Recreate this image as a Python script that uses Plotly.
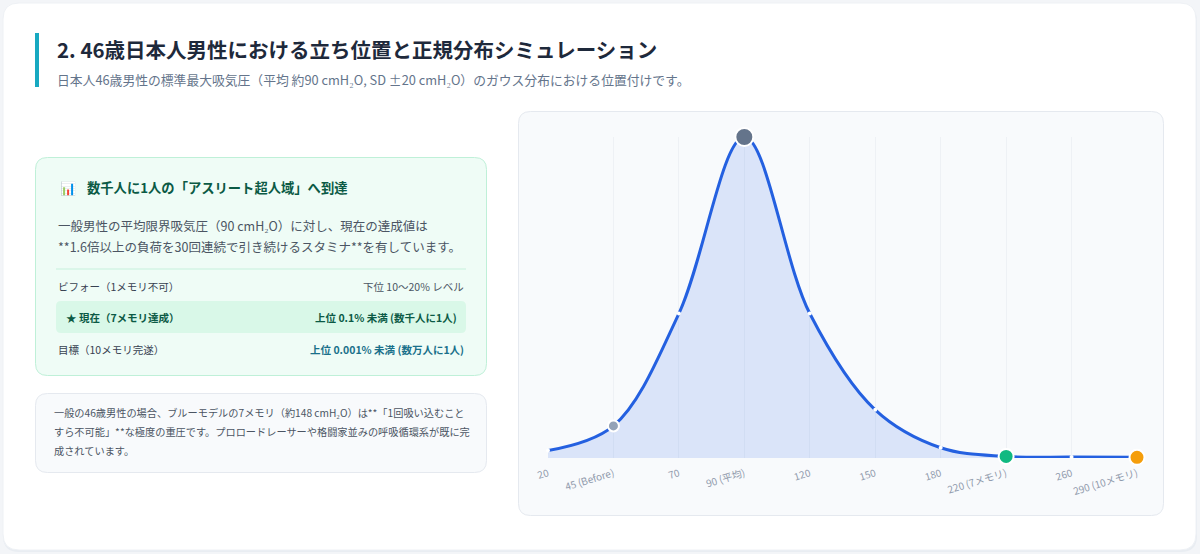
import plotly.graph_objects as go

# ---- data ----
categories = ["20", "45 (Before)", "70", "90 (平均)", "120", "150", "180",
              "220 (7メモリ)", "260", "290 (10メモリ)"]
density = [2.3, 10, 45, 100, 45, 15, 3.2, 0.5, 0.3, 0.2]

marker_colors = ["#ffffff", "#94a3b8", "#ffffff", "#64748b", "#ffffff", "#ffffff",
                 "#ffffff", "#10b981", "#ffffff", "#f59e0b"]
marker_sizes = [4, 11, 4, 18, 4, 4, 4, 15, 4, 15]
marker_borders = [0, 2, 0, 2, 0, 0, 0, 2, 0, 2]

title_text = "2. 46歳日本人男性における立ち位置と正規分布シミュレーション"
subtitle_text = "日本人46歳男性の標準最大吸気圧（平均 約90 cmH₂O, SD ±20 cmH₂O）のガウス分布における位置付けです。"
card_heading = "数千人に1人の「アスリート超人域」へ到達"
card_para = ["一般男性の平均限界吸気圧（90 cmH₂O）に対し、現在の達成値は",
             "**1.6倍以上の負荷を30回連続で引き続けるスタミナ**を有しています。"]
row_labels = ["ビフォー（1メモリ不可）", "★ 現在（7メモリ達成）", "目標（10メモリ完遂）"]
row_values = ["下位 10〜20% レベル", "上位 0.1% 未満 (数千人に1人)", "上位 0.001% 未満 (数万人に1人)"]
note_lines = ["一般の46歳男性の場合、ブルーモデルの7メモリ（約148 cmH₂O）は**「1回吸い込むこと",
              "すら不可能」**な極度の重圧です。プロロードレーサーや格闘家並みの呼吸循環系が既に完",
              "成されています。"]

W, H = 1200, 554
FONT = "Noto Sans CJK JP"


def X(p):
    return p / W


def Y(p):
    return 1 - p / H


def rrect(x0, y0, x1, y1, r, fill, line=None, lw=1):
    rx, ry = r, r
    path = (f"M {X(x0+rx)},{Y(y0)} L {X(x1-rx)},{Y(y0)} Q {X(x1)},{Y(y0)} {X(x1)},{Y(y0+ry)} "
            f"L {X(x1)},{Y(y1-ry)} Q {X(x1)},{Y(y1)} {X(x1-rx)},{Y(y1)} "
            f"L {X(x0+rx)},{Y(y1)} Q {X(x0)},{Y(y1)} {X(x0)},{Y(y1-ry)} "
            f"L {X(x0)},{Y(y0+ry)} Q {X(x0)},{Y(y0)} {X(x0+rx)},{Y(y0)} Z")
    return dict(type="path", path=path, xref="paper", yref="paper", fillcolor=fill,
                line=dict(color=line if line else fill, width=lw if line else 0), layer="below")


shapes = []
# outer card with faint shadow
shapes.append(rrect(3, 5, 1197, 552, 16, "#e9edf2"))
shapes.append(rrect(3, 3, 1196, 550, 16, "#ffffff", "#eef1f5", 1))
# title accent bar
shapes.append(dict(type="rect", xref="paper", yref="paper", x0=X(35), x1=X(39), y0=Y(33), y1=Y(87),
                   fillcolor="#17a9c1", line=dict(width=0), layer="below"))
# green card
shapes.append(rrect(35.5, 157.5, 486.5, 375.5, 12, "#effcf6", "#bff0d8", 1))
shapes.append(dict(type="line", xref="paper", yref="paper", x0=X(56), x1=X(466), y0=Y(269), y1=Y(269),
                   line=dict(color="#c6f1dc", width=1), layer="below"))
shapes.append(rrect(56, 301, 466, 333, 5, "#d9f8e8"))
# note card
shapes.append(rrect(35.5, 393.5, 486.5, 472.5, 12, "#f8fafc", "#e5e9ef", 1))
# chart card
shapes.append(rrect(518.5, 111.5, 1163.5, 515.5, 12, "#f8fafc", "#e5e9ef", 1))

annotations = []


def txt(x, y, s, size, color, anchor="left", weight=400):
    annotations.append(dict(x=X(x), y=Y(y), xref="paper", yref="paper", text=s, showarrow=False,
                            xanchor=anchor, yanchor="middle",
                            font=dict(family=FONT, size=size, color=color, weight=weight)))


txt(55, 49, title_text, 20.5, "#1e293b", weight=600)
txt(55, 79, subtitle_text, 12.8, "#64748b")
txt(58, 188, "📊", 13, "#64748b")
txt(85, 188, card_heading, 13.3, "#0b5a45", weight=700)
txt(56, 225, card_para[0], 12.5, "#4b5563")
txt(56, 246, card_para[1], 12.5, "#4b5563")
txt(56, 286, row_labels[0], 10.5, "#374151")
txt(466, 286, row_values[0], 10.5, "#4b5563", anchor="right")
txt(64, 317, row_labels[1], 10.5, "#0b5a45", weight=700)
txt(459, 317, row_values[1], 10.5, "#0b5a45", anchor="right", weight=700)
txt(56, 349, row_labels[2], 10.5, "#374151")
txt(466, 349, row_values[2], 10.5, "#19708a", anchor="right", weight=600)
for i, line in enumerate(note_lines):
    txt(52, 412 + i * 19, line, 10.2, "#4b5563")

fig = go.Figure()
fig.add_trace(go.Scatter(
    x=categories, y=density, mode="lines",
    line=dict(color="#2460e0", width=3, shape="spline", smoothing=1.0),
    fill="tozeroy", fillcolor="rgba(37,99,235,0.14)",
    cliponaxis=False, hoverinfo="skip", showlegend=False,
))
fig.add_trace(go.Scatter(
    x=categories, y=density, mode="markers",
    marker=dict(color=marker_colors, size=marker_sizes, opacity=1,
                line=dict(color="#ffffff", width=marker_borders)),
    cliponaxis=False, hoverinfo="skip", showlegend=False,
))

fig.update_layout(
    width=W, height=H, margin=dict(l=0, r=0, t=0, b=0),
    paper_bgcolor="#f3f5f8", plot_bgcolor="rgba(0,0,0,0)",
    shapes=shapes, annotations=annotations,
    xaxis=dict(domain=[X(548), X(1137)], anchor="y", type="category",
               range=[0, len(categories) - 1], showgrid=True, gridcolor="#eef1f5", gridwidth=1,
               zeroline=False, showline=False, ticks="", tickangle=-17, automargin=False,
               ticklabelstandoff=7,
               tickfont=dict(family=FONT, size=10, color="#8f99ab")),
    yaxis=dict(domain=[1 - 458 / H, 1 - 137 / H], anchor="x", range=[0, 100],
               showgrid=False, zeroline=False, showline=False, showticklabels=False,
               ticks="", automargin=False),
)

fig.write_html("out.html", config={"displayModeBar": False},
               post_script="document.body.style.margin='0';document.body.style.overflow='hidden';")
